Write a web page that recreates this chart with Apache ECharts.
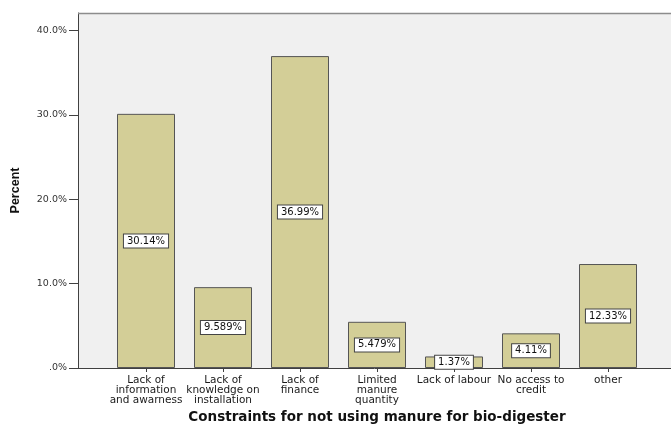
<!DOCTYPE html>
<html>
<head>
<meta charset="utf-8">
<script src="https://cdn.jsdelivr.net/npm/echarts@6/dist/echarts.min.js"></script>
<style>
  html, body { margin: 0; padding: 0; background: #ffffff; }
  #chart { width: 671px; height: 426px; }
</style>
</head>
<body>
<div id="chart"></div>
<script>
// Constraints for not using manure for bio-digester (percent of respondents)
const categories = [
  'Lack of\ninformation\nand awarness',
  'Lack of\nknowledge on\ninstallation',
  'Lack of\nfinance',
  'Limited\nmanure\nquantity',
  'Lack of labour',
  'No access to\ncredit',
  'other'
];
const percentValues = [30.14, 9.589, 36.99, 5.479, 1.37, 4.11, 12.33];
const valueLabels = ['30.14%', '9.589%', '36.99%', '5.479%', '1.37%', '4.11%', '12.33%'];
const yTicks = [0, 10, 20, 30, 40];

const font = 'DejaVu Sans, Verdana, sans-serif';
const boldFont = 'Liberation Sans, Arial, sans-serif';
const yMax = 42.1;

const chart = echarts.init(document.getElementById('chart'), null, { renderer: 'canvas' });

chart.setOption({
  backgroundColor: '#ffffff',
  animation: false,
  grid: [
    // frame + value axis
    { left: 78, right: 0, top: 13, bottom: 58, show: true, outerBoundsMode: 'none',
      containLabel: false, backgroundColor: '#f0f0f0', borderWidth: 0 },
    // bars
    { left: 107.5, right: 24.5, top: 13, bottom: 58, outerBoundsMode: 'none',
      containLabel: false }
  ],
  xAxis: [
    { gridIndex: 0, type: 'value', min: 0, max: 1,
      axisLine: { show: true, onZero: false, lineStyle: { color: '#404040', width: 1 } },
      axisTick: { show: false }, axisLabel: { show: false }, splitLine: { show: false } },
    { gridIndex: 1, type: 'category', data: categories,
      axisLine: { show: false },
      axisTick: { show: true, alignWithLabel: true, length: 4, lineStyle: { color: '#404040' } },
      axisLabel: { interval: 0, color: '#1a1a1a', fontFamily: font, fontSize: 10.5,
                   lineHeight: 10, margin: 7 },
      name: 'Constraints for not using manure for bio-digester',
      nameLocation: 'middle', nameGap: 40,
      nameTextStyle: { fontFamily: font, fontSize: 13.5, fontWeight: 'bold', color: '#111' } }
  ],
  yAxis: [
    { gridIndex: 0, type: 'value', min: 0, max: yMax, interval: 10,
      axisLine: { show: true, lineStyle: { color: '#404040', width: 1 } },
      axisTick: { show: true, length: 9, lineStyle: { color: '#404040' } },
      axisLabel: { color: '#333', fontFamily: font, fontSize: 9.5, margin: 11,
                   showMaxLabel: false,
                   formatter: v => yTicks.includes(v) ? (v === 0 ? '.0%' : v.toFixed(1) + '%') : '' },
      splitLine: { show: false },
      name: 'Percent', nameLocation: 'middle', nameGap: 56, nameRotate: 90,
      nameTextStyle: { fontFamily: boldFont, fontSize: 12.5, fontWeight: 'bold', color: '#111' } },
    { gridIndex: 1, type: 'value', min: 0, max: yMax, show: false }
  ],
  graphic: [
    { type: 'line', shape: { x1: 78, y1: 13.5, x2: 671, y2: 13.5 },
      style: { stroke: '#8c8c8c', lineWidth: 1.5 }, z: 10 }
  ],
  series: [{
    type: 'bar', xAxisIndex: 1, yAxisIndex: 1,
    data: percentValues,
    barWidth: 58,
    itemStyle: { color: '#d3ce97', borderColor: '#555', borderWidth: 1 },
    label: {
      show: true, position: 'inside',
      formatter: p => valueLabels[p.dataIndex],
      color: '#111', fontFamily: font, fontSize: 10,
      backgroundColor: '#ffffff', borderColor: '#444', borderWidth: 1,
      padding: [2, 3, 1, 3]
    }
  }]
});
</script>
</body>
</html>
